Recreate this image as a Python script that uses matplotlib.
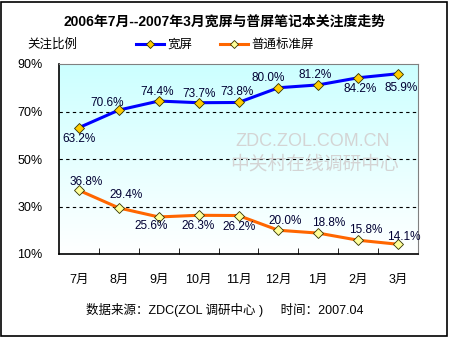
import numpy as np
import matplotlib
matplotlib.use("Agg")
import matplotlib.pyplot as plt
from matplotlib.patches import Rectangle
from matplotlib.colors import LinearSegmentedColormap

plt.rcParams['font.family'] = ['Liberation Sans', 'Noto Sans CJK SC', 'DejaVu Sans']

months = ['7月', '8月', '9月', '10月', '11月', '12月', '1月', '2月', '3月']
wide = [63.2, 70.6, 74.4, 73.7, 73.8, 80.0, 81.2, 84.2, 85.9]
standard = [36.8, 29.4, 25.6, 26.3, 26.2, 20.0, 18.8, 15.8, 14.1]
y_ticks = [10, 30, 50, 70, 90]

# label offsets in pixels (dx, dy)
wide_off = [(0, -11), (-12, 7), (-2, 9), (0, 9), (-2, 10), (-10, 10), (-3, 10), (2, -11), (3, -14)]
std_off = [(7, 8), (7, 13), (-8, -9), (-1, -11), (1, -11), (7, 9), (10, 10), (8, 10), (6, 7)]

fig = plt.figure(figsize=(4.5, 3.37), dpi=100)
ax = fig.add_axes([59 / 450, 1 - 254 / 337, 359 / 450, 190 / 337])

x = np.arange(len(months))
ax.set_xlim(-0.5, len(months) - 0.5)
ax.set_ylim(10, 90)

# background gradient
cmap = LinearSegmentedColormap.from_list('bg', ['#ffffff', '#ccffff'])
grad = np.linspace(0, 1, 256).reshape(-1, 1)
ax.imshow(grad, aspect='auto', cmap=cmap, extent=(-0.5, len(months) - 0.5, 90, 10),
          zorder=0)

for v in [30, 50, 70]:
    ax.axhline(v, color='black', lw=0.8, ls=(0, (3, 3)), zorder=1)

# watermark
ax.text(5.85, 57.5, 'ZDC.ZOL.COM.CN', fontsize=13, color='#d4d4d4', ha='center',
        va='center', zorder=1)
ax.text(5.9, 47.5, '中关村在线调研中心', fontsize=13.5, color='#d4d4d4', ha='center',
        va='center', zorder=1)

ax.plot(x, wide, color='#0000ff', lw=2.2, marker='D', ms=5, mfc='#ffcc00', mec='#333300',
        mew=0.6, label='宽屏', zorder=3)
ax.plot(x, standard, color='#ff6600', lw=2.2, marker='D', ms=5, mfc='#ffff99', mec='#333300',
        mew=0.6, label='普通标准屏', zorder=3)

for i, v in enumerate(wide):
    ax.annotate(f'{v:.1f}%', (x[i], v), xytext=wide_off[i], textcoords='offset pixels',
                ha='center', va='center', fontsize=8.5, color='#000033')
for i, v in enumerate(standard):
    ax.annotate(f'{v:.1f}%', (x[i], v), xytext=std_off[i], textcoords='offset pixels',
                ha='center', va='center', fontsize=8.5, color='#000033')

ax.set_yticks(y_ticks)
ax.set_yticklabels([f'{t}%' for t in y_ticks], fontsize=9)
ax.set_xticks(x)
ax.set_xticklabels(months, fontsize=9)
ax.set_xticks(np.arange(0.5, len(months) - 1, 1), minor=True)
ax.tick_params(axis='y', length=0, pad=12)
ax.tick_params(axis='x', which='major', length=0, pad=14)
ax.tick_params(axis='x', which='minor', length=4, direction='in', color='black')
for s in ['top', 'right']:
    ax.spines[s].set_color('#808080')
for s in ['left', 'bottom']:
    ax.spines[s].set_color('black')
    ax.spines[s].set_linewidth(1.2)

fig.text(0.5, 1 - 22 / 337, '2006年7月--2007年3月宽屏与普屏笔记本关注度走势', ha='center',
         va='center', fontsize=10, fontweight='bold')
fig.text(27 / 450, 1 - 45 / 337, '关注比例', ha='left', va='center', fontsize=9)
fig.legend(loc='center', bbox_to_anchor=(225 / 450, 1 - 45 / 337), ncol=2, frameon=False,
           fontsize=9, handlelength=2.2, columnspacing=2.2, handletextpad=0.3, markerscale=0.8)
fig.text(225 / 450, 1 - 310 / 337, '数据来源：ZDC(ZOL 调研中心 )     时间：2007.04',
         ha='center', va='center', fontsize=9)

fig.patches.append(Rectangle((0.5 / 450, 1.5 / 337), 446 / 450, 334 / 337,
                             transform=fig.transFigure, fill=False, ec='black', lw=1.2))

fig.savefig('out.png', dpi=100)
